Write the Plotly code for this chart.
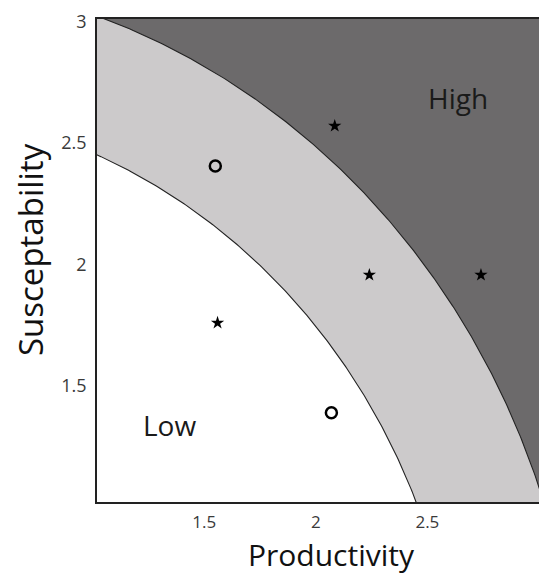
import numpy as np
import plotly.graph_objects as go

# Data
circle_x = [1.55, 2.07]
circle_y = [2.405, 1.39]
star_x = [2.085, 2.24, 2.74, 1.56]
star_y = [2.57, 1.957, 1.957, 1.76]

# Vulnerability thresholds (distance from origin)
low_radius = 2.655
high_radius = 3.19

region_labels = ["Low", "High"]
region_label_x = [1.345, 2.635]
region_label_y = [1.34, 2.685]

x_ticks = [1.5, 2, 2.5, 3]
y_ticks = [1.5, 2, 2.5, 3]

theta = np.linspace(0, np.pi / 2, 400)


def disk(r):
    xs = np.concatenate([[0], r * np.cos(theta), [0]])
    ys = np.concatenate([[0], r * np.sin(theta), [0]])
    return xs, ys


fig = go.Figure()
DARK = "#6c6a6b"
LIGHT = "#cccacb"

hx, hy = disk(high_radius)
fig.add_trace(go.Scatter(x=hx, y=hy, fill="toself", fillcolor=LIGHT, mode="lines",
                         line=dict(color="#222222", width=1.1), hoverinfo="skip", showlegend=False))
lx, ly = disk(low_radius)
fig.add_trace(go.Scatter(x=lx, y=ly, fill="toself", fillcolor="white", mode="lines",
                         line=dict(color="#222222", width=1.1), hoverinfo="skip", showlegend=False))

fig.add_trace(go.Scatter(x=star_x, y=star_y, mode="markers",
                         marker=dict(symbol="star", size=10, color="black"), showlegend=False))
fig.add_trace(go.Scatter(x=circle_x, y=circle_y, mode="markers",
                         marker=dict(symbol="circle-open", size=11, color="black",
                                     line=dict(width=2.5, color="black")), showlegend=False))

for t, x, y in zip(region_labels, region_label_x, region_label_y):
    fig.add_annotation(x=x, y=y, text=t, showarrow=False,
                       font=dict(family="Open Sans", size=28, color="#1a1a1a"))

fig.add_annotation(xref="paper", yref="paper", x=(331 - 97) / 442, y=-(554 - 502) / 483,
                   text="Productivity", showarrow=False, xanchor="center", yanchor="middle",
                   font=dict(family="Open Sans", size=30, color="#111111"))
fig.add_annotation(xref="paper", yref="paper", x=-(97 - 30) / 442, y=(502 - 250) / 483,
                   text="Susceptability", showarrow=False, textangle=-90,
                   xanchor="center", yanchor="middle",
                   font=dict(family="Open Sans", size=33, color="#111111"))

fig.update_xaxes(range=[1.02, 3.0], tickvals=x_ticks, ticktext=[str(v) for v in x_ticks],
                 showgrid=False, zeroline=False, showline=True, linecolor="#222222", linewidth=1.5,
                 mirror=True, ticks="", ticklabelstandoff=4,
                 tickfont=dict(family="Open Sans", size=17, color="#3a3a3a"))
fig.update_yaxes(range=[1.023, 3.01], tickvals=y_ticks, ticktext=[str(v) for v in y_ticks],
                 showgrid=False, zeroline=False, showline=True, linecolor="#222222", linewidth=1.5,
                 ticks="", ticklabelstandoff=5,
                 tickfont=dict(family="Open Sans", size=18, color="#3a3a3a"))

fig.update_layout(width=539, height=574, margin=dict(l=97, r=0, t=19, b=72),
                  plot_bgcolor=DARK, paper_bgcolor="white", showlegend=False)

fig.write_html("out.html", config={"displayModeBar": False},
               post_script="document.body.style.margin='0';document.body.style.overflow='hidden';")
